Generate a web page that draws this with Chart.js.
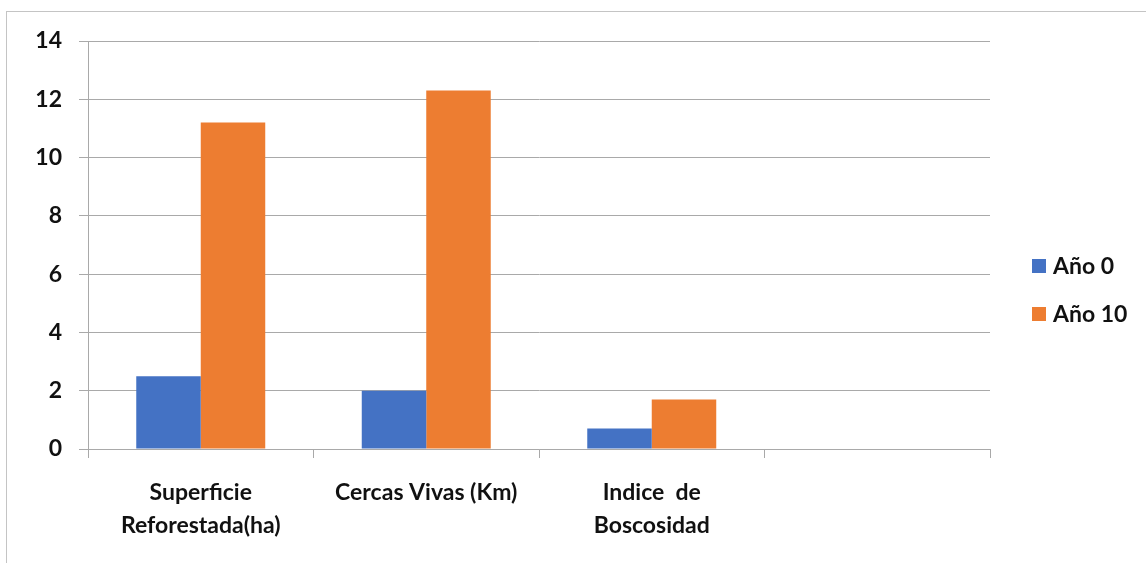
<!DOCTYPE html>
<html>
<head>
<meta charset="utf-8">
<script src="https://cdn.jsdelivr.net/npm/chart.js@4.4.1/dist/chart.umd.min.js"></script>
<style>
  body { margin: 0; background: #fff; }
  #wrap { position: relative; width: 1146px; height: 563px; overflow: hidden; }
  #marco { position: absolute; left: 6px; top: 11px; width: 1300px; height: 700px; border: 1px solid #c4c4c4; }
  #grafico { position: absolute; left: 0; top: 0; }
  .leyenda { position: absolute; left: 1032px; font-family: Lato, sans-serif; font-weight: bold; font-size: 23px; color: #111; }
  .leyenda span.caja { position: absolute; left: 0; width: 14px; height: 14px; }
  .leyenda span.txt { position: absolute; left: 21px; white-space: nowrap; line-height: 24px; }
</style>
</head>
<body>
<div id="wrap">
  <div id="marco"></div>
  <canvas id="grafico" width="1146" height="563"></canvas>
  <div class="leyenda" style="top:259px"><span class="caja" style="background:#4472C4"></span><span class="txt" style="top:-6px">Año 0</span></div>
  <div class="leyenda" style="top:307px"><span class="caja" style="background:#ED7D31"></span><span class="txt" style="top:-6px">Año 10</span></div>
</div>
<script>
// categories (the last one is empty in the original)
const categorias = [['Superficie', 'Reforestada(ha)'], 'Cercas Vivas (Km)', ['Indice  de', 'Boscosidad'], ''];
// series values
const anio0 = [2.5, 2.0, 0.7, null];
const anio10 = [11.2, 12.3, 1.7, null];
// y axis ticks
const yMin = 0;
const yMax = 14;
const yPaso = 2;

const colorGrid = '#a9a9a9';

const ctx = document.getElementById('grafico').getContext('2d');
const chart = new Chart(ctx, {
    type: 'bar',
    data: {
        labels: categorias,
        datasets: [
            { label: 'Año 0', data: anio0, backgroundColor: '#4472C4' },
            { label: 'Año 10', data: anio10, backgroundColor: '#ED7D31' }
        ]
    },
    options: {
        responsive: false,
        animation: false,
        categoryPercentage: 0.572,
        barPercentage: 1,
        layout: { padding: { left: 0, right: 156, top: 41, bottom: 0 } },
        plugins: {
            legend: { display: false },
            tooltip: { enabled: false }
        },
        scales: {
            x: {
                grid: { offset: true, drawOnChartArea: false, drawTicks: true, tickLength: 9, color: colorGrid },
                border: { color: colorGrid },
                ticks: {
                    padding: 18,
                    color: '#111',
                    font: { family: 'Lato', size: 23, weight: 'bold', lineHeight: 1.45 }
                },
                afterFit: (scale) => { scale.height = 114; }
            },
            y: {
                min: yMin,
                max: yMax,
                grid: { color: colorGrid, tickLength: 9 },
                border: { color: colorGrid },
                ticks: {
                    stepSize: yPaso,
                    padding: 17,
                    color: '#111',
                    font: { family: 'Lato', size: 23, weight: 'bold' }
                },
                afterFit: (scale) => { scale.width = 88; }
            }
        }
    }
});
</script>
</body>
</html>
